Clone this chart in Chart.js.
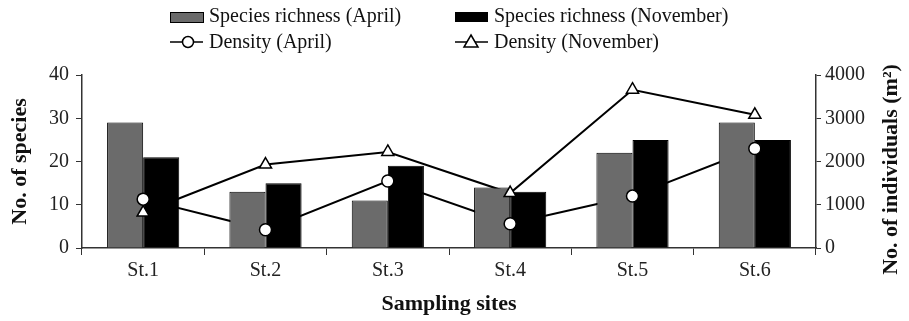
<!DOCTYPE html>
<html>
<head>
<meta charset="utf-8">
<script src="https://cdn.jsdelivr.net/npm/chart.js@4/dist/chart.umd.min.js"></script>
<style>
  html, body { margin: 0; padding: 0; background: #fff; }
  #wrap { width: 909px; height: 321px; position: relative; }
</style>
</head>
<body>
<div id="wrap"><canvas id="myChart"></canvas></div>
<script>
var sites = ['St.1', 'St.2', 'St.3', 'St.4', 'St.5', 'St.6'];
var richnessApril = [29, 13, 11, 14, 22, 29];
var richnessNovember = [21, 15, 19, 13, 25, 25];
var densityApril = [1130, 420, 1550, 560, 1200, 2300];
var densityNovember = [820, 1930, 2220, 1270, 3660, 3080];

var serif = "'Liberation Serif', 'Times New Roman', serif";
var axisColor = '#333';

// two-column legend and the right axis title (reads bottom to top)
var legendPlugin = {
    id: 'twoColLegend',
    afterDraw: function(chart) {
        var ctx = chart.ctx;
        ctx.save();
        ctx.font = '20px ' + serif;
        ctx.textBaseline = 'middle';
        ctx.textAlign = 'left';

        // row 1: boxes
        ctx.fillStyle = '#6b6b6b';
        ctx.fillRect(170, 12, 33, 10);
        ctx.strokeStyle = '#000';
        ctx.lineWidth = 1;
        ctx.strokeRect(170.5, 12.5, 33, 10);
        ctx.fillStyle = '#000';
        ctx.fillRect(455, 12, 33, 10);

        ctx.fillStyle = '#111';
        ctx.fillText('Species richness (April)', 209, 17);
        ctx.fillText('Species richness (November)', 494, 17);

        // row 2: line markers
        ctx.strokeStyle = '#000';
        ctx.lineWidth = 1.5;
        ctx.beginPath();
        ctx.moveTo(170, 42); ctx.lineTo(203, 42);
        ctx.moveTo(455, 42); ctx.lineTo(488, 42);
        ctx.stroke();

        ctx.fillStyle = '#fff';
        ctx.beginPath();
        ctx.arc(188, 42, 5.5, 0, Math.PI * 2);
        ctx.fill(); ctx.stroke();

        ctx.beginPath();
        ctx.moveTo(471, 35); ctx.lineTo(478, 47); ctx.lineTo(464, 47); ctx.closePath();
        ctx.fill(); ctx.stroke();

        ctx.fillStyle = '#111';
        ctx.fillText('Density (April)', 209, 43);
        ctx.fillText('Density (November)', 494, 43);

        // right title
        var area = chart.chartArea;
        ctx.translate(891, (area.top + area.bottom) / 2 + 8);
        ctx.rotate(-Math.PI / 2);
        ctx.textAlign = 'center';
        ctx.font = 'bold 22px ' + serif;
        ctx.fillText('No. of individuals (m²)', 0, 0);
        ctx.restore();
    }
};

var ctx = document.getElementById('myChart').getContext('2d');
var myChart = new Chart(ctx, {
    type: 'bar',
    data: {
        labels: sites,
        datasets: [{
            label: 'Density (April) line',
            type: 'line',
            data: densityApril,
            yAxisID: 'y1',
            borderColor: '#000',
            borderWidth: 2,
            pointRadius: 0,
            order: 3
        }, {
            label: 'Density (November) line',
            type: 'line',
            data: densityNovember,
            yAxisID: 'y1',
            borderColor: '#000',
            borderWidth: 2,
            pointRadius: 0,
            order: 3
        }, {
            label: 'Species richness (April)',
            data: richnessApril,
            yAxisID: 'y',
            backgroundColor: '#6b6b6b',
            borderColor: '#000',
            borderWidth: 1,
            barPercentage: 1,
            categoryPercentage: 0.59,
            order: 2
        }, {
            label: 'Species richness (November)',
            data: richnessNovember,
            yAxisID: 'y',
            backgroundColor: '#000',
            borderColor: '#000',
            borderWidth: 1,
            barPercentage: 1,
            categoryPercentage: 0.59,
            order: 2
        }, {
            label: 'Density (April)',
            type: 'line',
            data: densityApril,
            yAxisID: 'y1',
            showLine: false,
            pointStyle: 'circle',
            pointRadius: 6,
            pointBackgroundColor: '#fff',
            pointBorderColor: '#000',
            pointBorderWidth: 1.5,
            order: 1
        }, {
            label: 'Density (November)',
            type: 'line',
            data: densityNovember,
            yAxisID: 'y1',
            showLine: false,
            pointStyle: 'triangle',
            pointRadius: 7,
            pointBackgroundColor: '#fff',
            pointBorderColor: '#000',
            pointBorderWidth: 1.5,
            order: 1
        }]
    },
    options: {
        responsive: true,
        maintainAspectRatio: false,
        animation: false,
        layout: { padding: { top: 75, left: 0, right: 0, bottom: 0 } },
        plugins: {
            legend: { display: false },
            tooltip: { enabled: false }
        },
        scales: {
            x: {
                afterFit: function(s) { s.height = 73; },
                grid: {
                    offset: true,
                    drawOnChartArea: false,
                    color: axisColor,
                    tickLength: 7
                },
                border: { display: true, color: axisColor, width: 1.5 },
                ticks: {
                    color: '#222',
                    padding: 4,
                    font: { family: serif, size: 20 }
                },
                title: {
                    display: true,
                    text: 'Sampling sites',
                    color: '#111',
                    padding: { top: 0, bottom: 3 },
                    font: { family: serif, size: 22, weight: 'bold' }
                }
            },
            y: {
                position: 'left',
                min: 0,
                max: 40,
                afterFit: function(s) { s.width = 82; },
                grid: {
                    drawOnChartArea: false,
                    color: axisColor,
                    tickLength: 6
                },
                border: { display: true, color: axisColor, width: 1.5 },
                ticks: {
                    stepSize: 10,
                    color: '#222',
                    padding: 7,
                    font: { family: serif, size: 20 }
                },
                title: {
                    display: true,
                    text: 'No. of species',
                    color: '#111',
                    padding: { top: 7, bottom: 0 },
                    font: { family: serif, size: 22, weight: 'bold' }
                }
            },
            y1: {
                position: 'right',
                min: 0,
                max: 4000,
                afterFit: function(s) { s.width = 93; },
                grid: {
                    drawOnChartArea: false,
                    color: axisColor,
                    tickLength: 5
                },
                border: { display: true, color: axisColor, width: 1.5 },
                ticks: {
                    stepSize: 1000,
                    color: '#222',
                    padding: 4,
                    font: { family: serif, size: 20 },
                    callback: function(v) { return String(v); }
                }
            }
        }
    },
    plugins: [legendPlugin]
});
</script>
</body>
</html>
